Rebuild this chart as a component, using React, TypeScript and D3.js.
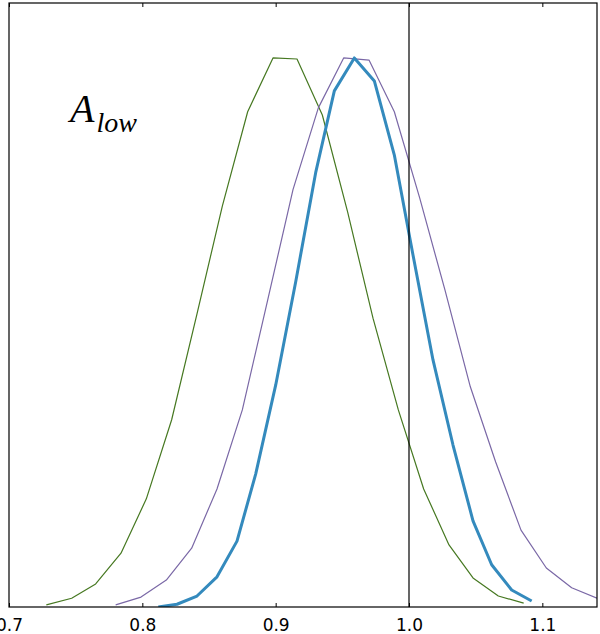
import React, { useEffect, useRef } from "react";
import * as d3 from "d3";

// three sampled posteriors, normalised to peak = 1
const greenX = [0.728, 0.747, 0.765, 0.784, 0.803, 0.822, 0.841, 0.860, 0.879, 0.898, 0.916, 0.935, 0.954, 0.973, 0.992, 1.011, 1.030, 1.048, 1.067, 1.086];
const greenY = [0.004, 0.016, 0.042, 0.098, 0.197, 0.341, 0.534, 0.730, 0.902, 1.0, 0.998, 0.896, 0.719, 0.526, 0.359, 0.215, 0.113, 0.053, 0.020, 0.007];

const purpleX = [0.780, 0.799, 0.818, 0.837, 0.856, 0.875, 0.894, 0.913, 0.932, 0.951, 0.970, 0.989, 1.008, 1.027, 1.046, 1.065, 1.084, 1.103, 1.122, 1.141];
const purpleY = [0.004, 0.018, 0.049, 0.107, 0.215, 0.359, 0.559, 0.760, 0.909, 1.0, 0.996, 0.902, 0.745, 0.577, 0.401, 0.264, 0.140, 0.071, 0.035, 0.016];

const blueX = [0.812, 0.826, 0.841, 0.856, 0.871, 0.885, 0.900, 0.915, 0.930, 0.944, 0.959, 0.974, 0.989, 1.003, 1.018, 1.033, 1.048, 1.062, 1.077, 1.092];
const blueY = [0.0, 0.005, 0.020, 0.055, 0.120, 0.242, 0.404, 0.592, 0.791, 0.940, 1.0, 0.958, 0.823, 0.641, 0.450, 0.295, 0.157, 0.077, 0.031, 0.011];

const xTicks = [0.7, 0.8, 0.9, 1.0, 1.1];
const refLine = 1.0;

export default function App() {
    const svgRef = useRef<SVGSVGElement>(null);

    useEffect(() => {
        const width = 600;
        const height = 634;
        const margin = { top: 3, right: 3, bottom: 27, left: 9 };
        const w = width - margin.left - margin.right;
        const h = height - margin.top - margin.bottom;

        const svg = d3.select(svgRef.current);
        svg.selectAll("*").remove();
        svg.attr("width", width).attr("height", height);

        const g = svg.append("g")
            .attr("transform", `translate(${margin.left},${margin.top})`);

        const x = d3.scaleLinear().domain([0.7, 1.141]).range([0, w]);
        const y = d3.scaleLinear().domain([0, 1.1]).range([h, 0]);

        svg.append("defs").append("clipPath").attr("id", "plotclip")
            .append("rect").attr("width", w).attr("height", h);

        const line = d3.line<[number, number]>()
            .x(d => x(d[0]))
            .y(d => y(d[1]));

        const series = [
            { xs: greenX, ys: greenY, color: "#467821", width: 1.2 },
            { xs: purpleX, ys: purpleY, color: "#7A68A6", width: 1.2 },
            { xs: blueX, ys: blueY, color: "#348ABD", width: 3 },
        ];

        const plot = g.append("g").attr("clip-path", "url(#plotclip)");
        series.forEach(s => {
            const pts = s.xs.map((v, i) => [v, s.ys[i]] as [number, number]);
            plot.append("path")
                .attr("d", line(pts))
                .attr("fill", "none")
                .attr("stroke", s.color)
                .attr("stroke-width", s.width)
                .attr("stroke-linejoin", "round");
        });

        // vertical reference line
        g.append("line")
            .attr("x1", x(refLine)).attr("x2", x(refLine))
            .attr("y1", 0).attr("y2", h)
            .attr("stroke", "black").attr("stroke-width", 1.2);

        // frame
        g.append("rect")
            .attr("width", w).attr("height", h)
            .attr("fill", "none").attr("stroke", "black").attr("stroke-width", 1.2);

        // inward ticks on top and bottom
        const bottom = g.append("g")
            .attr("transform", `translate(0,${h})`)
            .call(d3.axisBottom(x).tickValues(xTicks).tickFormat(d3.format(".1f")).tickSizeInner(-4).tickSizeOuter(0).tickPadding(12));
        bottom.select(".domain").remove();
        bottom.selectAll("text")
            .attr("font-family", "DejaVu Sans")
            .attr("font-size", 17)
            .attr("fill", "black");

        const top = g.append("g")
            .call(d3.axisTop(x).tickValues(xTicks).tickFormat(() => "").tickSizeInner(-4).tickSizeOuter(0));
        top.select(".domain").remove();

        // label
        const label = g.append("text")
            .attr("x", 61)
            .attr("y", 119)
            .attr("font-family", "Liberation Serif")
            .attr("font-style", "italic")
            .attr("fill", "black");
        label.append("tspan").attr("font-size", 40).text("A");
        label.append("tspan").attr("font-size", 28).attr("dy", 10).attr("dx", 2).text("low");
    }, []);

    return <svg ref={svgRef} style={{ position: "absolute", left: 0, top: 0 }}></svg>;
}
